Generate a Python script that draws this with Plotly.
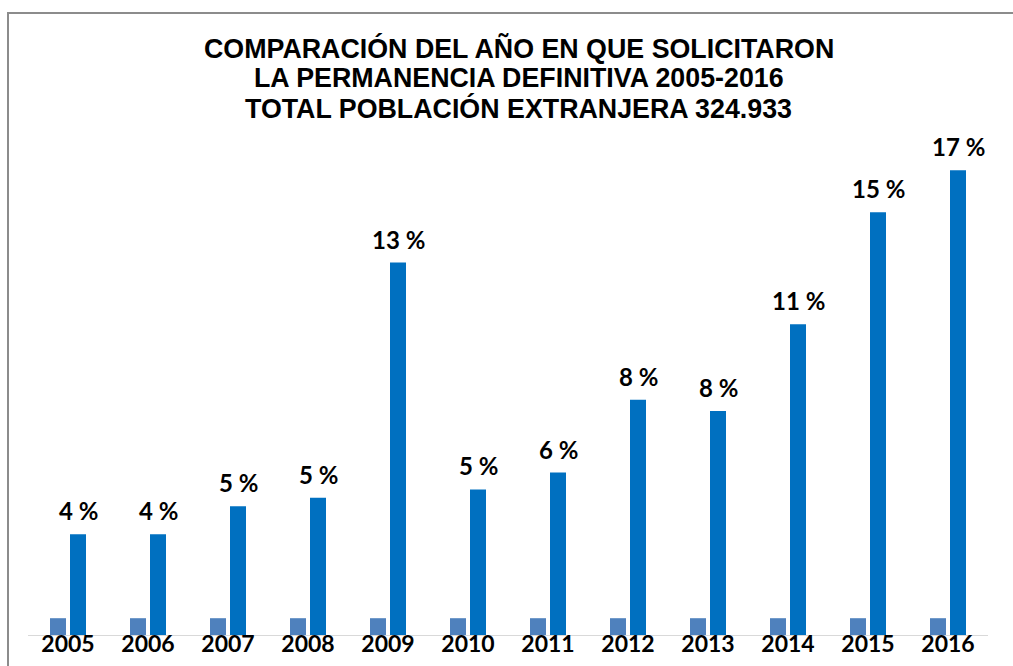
import plotly.graph_objects as go

# Year in which permanent residence was requested (share of 324.933 foreigners)
years = ["2005", "2006", "2007", "2008", "2009", "2010",
         "2011", "2012", "2013", "2014", "2015", "2016"]
pct_solicitudes = [3.6, 3.6, 4.6, 4.9, 13.3, 5.2, 5.8, 8.4, 8.0, 11.1, 15.1, 16.6]
serie_anio = [0.6] * len(years)

title_lines = [
    "COMPARACIÓN DEL AÑO EN QUE SOLICITARON",
    "LA PERMANENCIA DEFINITIVA 2005-2016",
    "TOTAL POBLACIÓN EXTRANJERA 324.933",
]

W, H = 1013, 666
M_L, M_R, M_T, M_B = 28, 25, 130, 31
plot_w = W - M_L - M_R
plot_h = H - M_T - M_B
px_per_pct = 28.0
base_px = H - M_B


def paper_y(py):
    return (base_px - py) / plot_h


def paper_x(px):
    return (px - M_L) / plot_w


fig = go.Figure()
fig.add_trace(go.Bar(
    x=years, y=serie_anio, name="Año",
    marker=dict(color="#4F81BD", line=dict(width=0)),
    hoverinfo="skip",
))
fig.add_trace(go.Bar(
    x=years, y=pct_solicitudes, name="Solicitudes",
    marker=dict(color="#0070C0", line=dict(width=0)),
))

# percentage labels above the dark bars (category index positions)
for i, v in enumerate(pct_solicitudes):
    fig.add_annotation(
        x=i, y=v, xref="x", yref="y",
        text=f"{v:.0f} %", showarrow=False,
        xanchor="center", yanchor="bottom",
        xshift=10, yshift=7,
        font=dict(family="Lato", size=24, color="#000000", weight="bold"),
    )

# three-line title
for i, line in enumerate(title_lines):
    fig.add_annotation(
        x=paper_x(518.5), y=paper_y(48 + 30.5 * i),
        xref="paper", yref="paper",
        text=line, showarrow=False,
        xanchor="center", yanchor="middle",
        font=dict(family="Liberation Sans", size=26.8, color="#000000", weight="bold"),
    )

# chart frame
fig.add_shape(
    type="rect", xref="paper", yref="paper",
    x0=paper_x(8), x1=paper_x(1040),
    y0=paper_y(700), y1=paper_y(13),
    line=dict(color="#8C8C8C", width=2),
    fillcolor="rgba(0,0,0,0)",
)

fig.update_layout(
    width=W, height=H,
    margin=dict(l=M_L, r=M_R, t=M_T, b=M_B, pad=0, autoexpand=False),
    paper_bgcolor="white", plot_bgcolor="white",
    barmode="group", bargap=0.5, bargroupgap=0.2,
    showlegend=False,
    xaxis=dict(
        type="category", range=[-0.5, len(years) - 0.5],
        automargin=False,
        showgrid=False, zeroline=False,
        showline=True, linecolor="#D9D9D9", linewidth=1,
        ticks="", ticklabelstandoff=-12,
        tickfont=dict(family="Lato", size=23, color="#000000", weight="bold"),
    ),
    yaxis=dict(
        range=[0, plot_h / px_per_pct], visible=False, automargin=False,
        showgrid=False, zeroline=False,
    ),
)

fig.write_html("out.html")
